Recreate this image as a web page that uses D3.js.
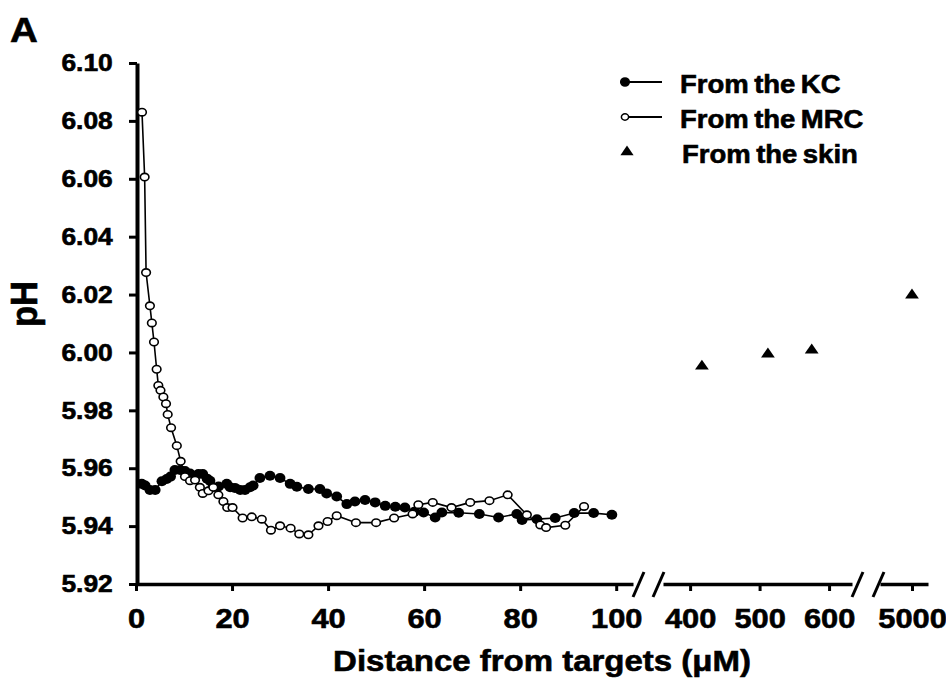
<!DOCTYPE html>
<html>
<head>
<meta charset="utf-8">
<script src="https://cdn.jsdelivr.net/npm/d3@7"></script>
<style>
  body { margin: 0; background: #fff; }
  text { font-family: "Liberation Sans", Arial, sans-serif; font-weight: bold; fill: #000; stroke: #000; stroke-width: 0.6px; }
</style>
</head>
<body>
<svg id="chart" width="946" height="682"></svg>
<script>
// pH measured going away from each target (distance in µm)
const kcData = [
  [1.2, 5.9546], [1.9, 5.954], [2.9, 5.9525], [4.0, 5.9525], [5.4, 5.9555], [6.4, 5.9563],
  [7.2, 5.9571], [8.1, 5.9594], [9.2, 5.9594], [10.2, 5.959], [11.25, 5.9582], [13.0, 5.958],
  [13.9, 5.958], [14.8, 5.9564], [15.4, 5.9557], [16.0, 5.9534], [17.2, 5.9537], [18.9, 5.9546],
  [19.6, 5.9534], [20.6, 5.9532], [21.7, 5.9525], [22.7, 5.9525], [23.75, 5.9534], [24.4, 5.954],
  [25.8, 5.9566], [27.9, 5.9574], [30.0, 5.9566], [32.1, 5.9546], [33.5, 5.9536], [35.9, 5.9528],
  [38.3, 5.9528], [39.7, 5.9513], [41.8, 5.9502], [43.9, 5.9476], [45.6, 5.9485], [47.7, 5.949],
  [49.8, 5.9482], [51.9, 5.947], [54.0, 5.9467], [56.0, 5.9464], [58.0, 5.945], [59.9, 5.9447],
  [62.3, 5.943], [63.7, 5.9447], [67.2, 5.9446], [71.5, 5.9442], [75.5, 5.943], [79.3, 5.9442],
  [80.4, 5.9421], [83.5, 5.9424], [87.3, 5.9428], [91.25, 5.9445], [95.3, 5.9445], [99.1, 5.9439]
];

const mrcData = [
  [1.25, 6.083], [1.8, 6.0606], [2.1, 6.0276], [2.9, 6.0161], [3.3, 6.0102], [3.75, 6.0036],
  [4.3, 5.9942], [4.65, 5.9886], [5.1, 5.9869], [5.7, 5.9846], [6.25, 5.9823], [6.6, 5.9786],
  [7.3, 5.974], [8.5, 5.9678], [9.3, 5.9624], [10.2, 5.9571], [11.25, 5.9557], [12.3, 5.9559],
  [13.3, 5.9534], [13.9, 5.9513], [15.1, 5.9522], [16.1, 5.9534], [17.15, 5.9508], [18.2, 5.9485],
  [19.0, 5.9464], [20.1, 5.9464], [22.2, 5.9428], [24.1, 5.9432], [26.2, 5.9424], [28.1, 5.9386],
  [30.0, 5.9401], [32.2, 5.9393], [34.0, 5.9373], [35.9, 5.937], [38.0, 5.9401], [39.9, 5.9416],
  [41.8, 5.9436], [45.8, 5.9412], [50.0, 5.9412], [53.75, 5.9428], [57.6, 5.9442], [58.8, 5.9474],
  [61.8, 5.9482], [65.7, 5.9464], [69.6, 5.9482], [73.6, 5.9488], [77.4, 5.9508], [81.4, 5.9439],
  [84.2, 5.9404], [85.4, 5.9395], [89.4, 5.9403], [93.3, 5.9468]
];

// skin readings sit on the broken part of the axis
const skinData = [[417, 5.9952], [512, 5.9994], [575, 6.0008], [5000, 6.0198]];

const yTicks = [5.92, 5.94, 5.96, 5.98, 6.00, 6.02, 6.04, 6.06, 6.08, 6.10];
const xTicksNear = [0, 20, 40, 60, 80, 100];
const xTicksMid = [400, 500, 600];
const xTicksFar = [5000];

const legendItems = [
  { label: 'From the KC', type: 'filled' },
  { label: 'From the MRC', type: 'open' },
  { label: 'From the skin', type: 'triangle' }
];

const svg = d3.select('#chart');
const stretch = 'scale(1.1,1)';
const axisY = 584;

const y = d3.scaleLinear().domain([5.92, 6.10]).range([axisY, 63]);

// three x segments with breaks between them
const xNear = d3.scaleLinear().domain([0, 103.5]).range([136, 633]);
const xMid = d3.scaleLinear().domain([361, 633]).range([663, 852]);
const xFar = d3.scaleLinear().domain([4680, 5160]).range([880, 928]);
const segments = [
  { scale: xNear, ticks: xTicksNear },
  { scale: xMid, ticks: xTicksMid },
  { scale: xFar, ticks: xTicksFar }
];
const xFor = v => (v <= 103.5 ? xNear(v) : v < 1000 ? xMid(v) : xFar(v));

// x axis pieces
segments.forEach(seg => {
  const g = svg.append('g').attr('transform', `translate(0,${axisY})`);
  g.call(d3.axisBottom(seg.scale).tickValues(seg.ticks).tickFormat(d3.format('d'))
    .tickSize(7).tickSizeOuter(0).tickPadding(10));
  g.select('.domain').attr('stroke', '#000').attr('stroke-width', 3.5);
  g.selectAll('.tick line').attr('stroke', '#000').attr('stroke-width', 3);
  g.selectAll('.tick text')
    .attr('font-size', 28)
    .attr('dy', '0.95em')
    .attr('transform', stretch)
    .style('font-family', '"Liberation Sans", Arial, sans-serif')
    .style('font-weight', 'bold');
});

// break marks
const breakAt = [633, 653, 852, 873];
svg.append('g').selectAll('line')
  .data(breakAt)
  .join('line')
  .attr('x1', d => d).attr('y1', axisY + 13)
  .attr('x2', d => d + 11).attr('y2', axisY - 12)
  .attr('stroke', '#000')
  .attr('stroke-width', 3);

// y axis
const gy = svg.append('g').attr('transform', 'translate(137,0)');
gy.call(d3.axisLeft(y).tickValues(yTicks).tickFormat(d3.format('.2f')).tickSize(8).tickSizeOuter(0).tickPadding(14));
gy.select('.domain').attr('stroke', '#000').attr('stroke-width', 4);
gy.selectAll('.tick line').attr('stroke', '#000').attr('stroke-width', 3);
gy.selectAll('.tick text')
  .attr('font-size', 24)
  .attr('transform', stretch)
  .style('font-family', '"Liberation Sans", Arial, sans-serif')
  .style('font-weight', 'bold');

// series lines
const line = d3.line().x(d => xNear(d[0])).y(d => y(d[1]));

svg.append('path')
  .datum(mrcData)
  .attr('d', line)
  .attr('fill', 'none')
  .attr('stroke', '#000')
  .attr('stroke-width', 1.6);

svg.append('path')
  .datum(kcData)
  .attr('d', line)
  .attr('fill', 'none')
  .attr('stroke', '#000')
  .attr('stroke-width', 1.6);

svg.append('g').selectAll('ellipse')
  .data(kcData)
  .join('ellipse')
  .attr('cx', d => xNear(d[0]))
  .attr('cy', d => y(d[1]))
  .attr('rx', 5.4)
  .attr('ry', 5)
  .attr('fill', '#000');

svg.append('g').selectAll('ellipse')
  .data(mrcData)
  .join('ellipse')
  .attr('cx', d => xNear(d[0]))
  .attr('cy', d => y(d[1]))
  .attr('rx', 4.3)
  .attr('ry', 3.7)
  .attr('fill', '#fff')
  .attr('stroke', '#000')
  .attr('stroke-width', 1.6);

const tri = d3.symbol().type(d3.symbolTriangle).size(62);
svg.append('g').selectAll('path')
  .data(skinData)
  .join('path')
  .attr('d', tri)
  .attr('transform', d => `translate(${xFor(d[0])},${y(d[1])}) scale(1.15,0.95)`)
  .attr('fill', '#000');

// legend
const legend = svg.append('g').attr('transform', 'translate(623,82)');
legendItems.forEach((item, i) => {
  const row = legend.append('g').attr('transform', `translate(0,${i * 35})`);
  if (item.type !== 'triangle') {
    row.append('line')
      .attr('x1', 2).attr('x2', 39).attr('y1', 0).attr('y2', 0)
      .attr('stroke', '#000').attr('stroke-width', 1.8);
    row.append('ellipse')
      .attr('cx', 2).attr('cy', 0)
      .attr('rx', item.type === 'filled' ? 4.3 : 3.6)
      .attr('ry', item.type === 'filled' ? 4 : 3.2)
      .attr('fill', item.type === 'filled' ? '#000' : '#fff')
      .attr('stroke', '#000').attr('stroke-width', 1.5);
  } else {
    row.append('path')
      .attr('d', tri)
      .attr('transform', 'translate(4,0) scale(1.1,0.95)')
      .attr('fill', '#000');
  }
  row.append('text')
    .attr('transform', `translate(${item.type === 'triangle' ? 59 : 57},11) ${stretch}`)
    .attr('font-size', 25)
    .attr('word-spacing', -2)
    .text(item.label);
});

// titles
svg.append('text')
  .attr('transform', `translate(542,671) ${stretch}`)
  .attr('text-anchor', 'middle')
  .attr('font-size', 30)
  .text('Distance from targets (μM)');

svg.append('text')
  .attr('transform', 'translate(37,304) rotate(-90) scale(1.05,1.1)')
  .attr('text-anchor', 'middle')
  .attr('font-size', 33)
  .text('pH');

svg.append('text')
  .attr('transform', `translate(10,42) ${stretch}`)
  .attr('font-size', 35)
  .text('A');
</script>
</body>
</html>
